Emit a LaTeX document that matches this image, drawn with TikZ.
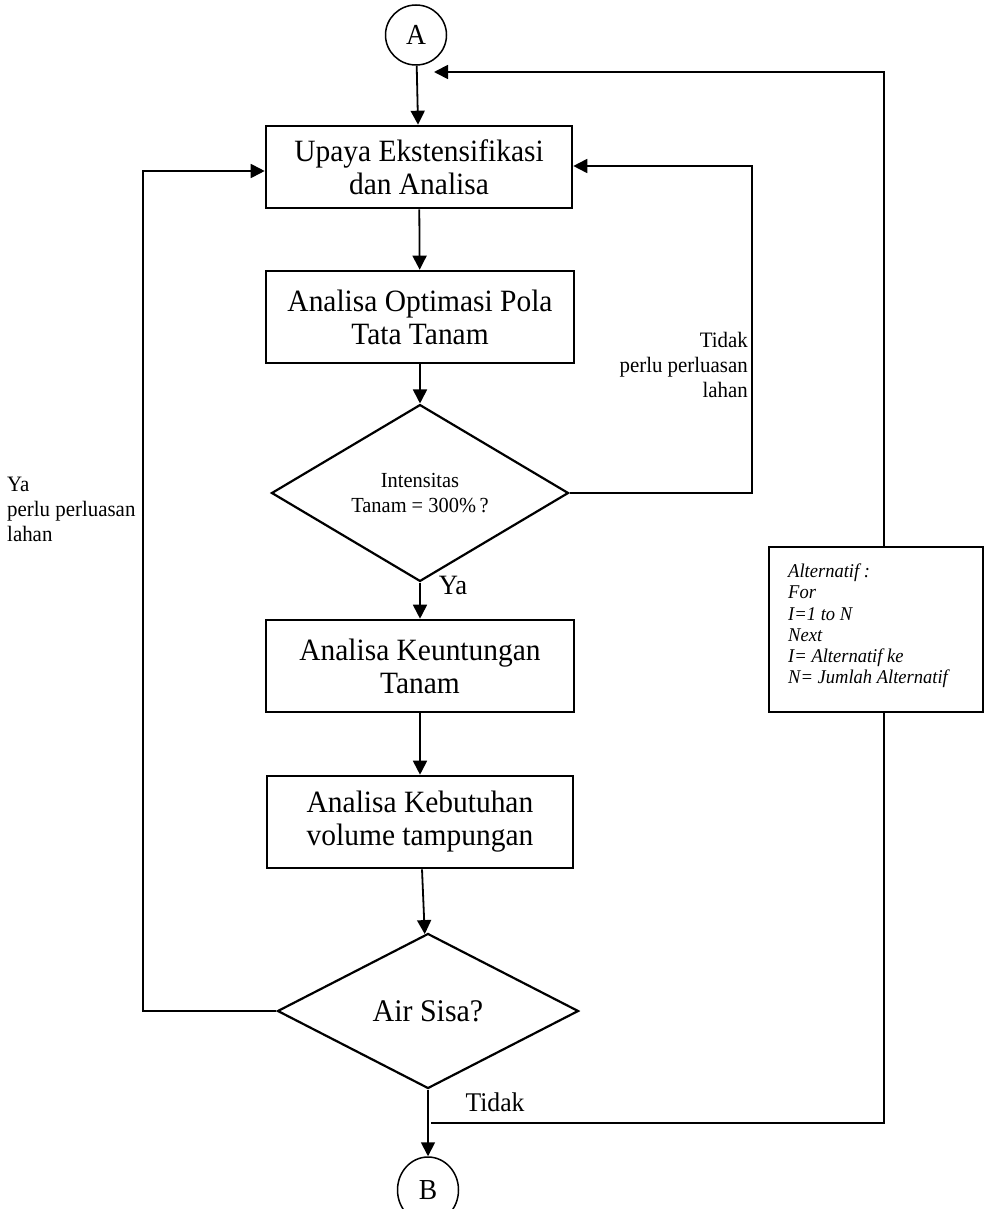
\documentclass[tikz,border=0pt]{standalone}
\usepackage{fontspec}
\setmainfont{Liberation Serif}[FakeStretch=0.95]
\usetikzlibrary{arrows.meta,shapes.geometric}
\begin{document}
\begin{tikzpicture}[x=1pt,y=-1pt,
  procbox/.style={draw,rectangle,line width=2.6pt,inner sep=0pt,align=center,font=\fontsize{31}{33}\selectfont},
  decbox/.style={draw,diamond,line width=2.2pt,inner sep=0pt,align=center},
  connbox/.style={draw,ellipse,line width=1.5pt,inner sep=0pt,font=\fontsize{29}{30}\selectfont},
  arr/.style={line width=1.8pt,-{Triangle[length=14pt,width=14pt]}},
  ln/.style={line width=1.8pt},
  lbl/.style={inner sep=0pt,font=\fontsize{22}{25}\selectfont}
]
\useasboundingbox (0,0) rectangle (991,1209);

% connectors
\node[connbox,minimum width=61pt,minimum height=60pt] (A) at (416,35) {A};
\node[connbox,minimum width=61pt,minimum height=66pt] (B) at (428,1190) {B};

% process boxes
\node[procbox,minimum width=306pt,minimum height=82pt] (b1) at (419,167) {Upaya Ekstensifikasi\\dan Analisa};
\node[procbox,minimum width=308pt,minimum height=92pt] (b2) at (420,317) {Analisa Optimasi Pola\\Tata Tanam};
\node[procbox,minimum width=308pt,minimum height=92pt] (b3) at (420,666) {Analisa Keuntungan\\Tanam};
\node[procbox,minimum width=306pt,minimum height=92pt] (b4) at (420,822) {Analisa Kebutuhan\\volume tampungan};

% decisions
\node[decbox,minimum width=297pt,minimum height=127pt,font=\fontsize{21.5}{25}\selectfont] (d1) at (420,493) {Intensitas\\Tanam = 300\%\,?};
\node[decbox,minimum width=301pt,minimum height=155pt,font=\fontsize{31.5}{33}\selectfont] (d2) at (428,1011) {Air Sisa?};

% alternative box
\node[draw,rectangle,line width=2.6pt,minimum width=214pt,minimum height=165pt,inner sep=0pt] (alt) at (876,629.5) {};
\node[inner sep=0pt,anchor=west,align=left,font=\fontsize{19.5}{21.2}\selectfont\itshape] (altt) at (788,626) {Alternatif :\\For\\I=1 to N\\Next\\I= Alternatif ke\\N= Jumlah Alternatif};

% coordinates
\coordinate (tj) at (431,1123);
\coordinate (rb) at (884,1123);
\coordinate (rt) at (884,72);
\coordinate (ta) at (434,72);
\coordinate (tr) at (752,166);
\coordinate (tl) at (143,171);

% main flow
\draw[arr] (A) -- (b1);
\draw[arr] (b1) -- (b2);
\draw[arr] (b2) -- (d1);
\draw[arr] (d1) -- (b3);
\draw[arr] (b3) -- (b4);
\draw[arr] (b4) -- (d2);
\draw[arr] (d2) -- (B);

% loops
\draw[arr] (d1.east) -| (tr) -- (tr -| b1.east);
\draw[arr] (d2.west) -| (tl) -- (tl -| b1.west);
\draw[ln] (tj) -- (rb) -- (rb |- alt.south);
\draw[arr] (rt |- alt.north) -- (rt) -- (ta);

% labels
\node[lbl,anchor=east,align=right] (lt) at (748,365) {Tidak\\perlu perluasan\\lahan};
\node[lbl,anchor=west,align=left] (ly) at (7,509) {Ya\\perlu perluasan\\lahan};
\node[inner sep=0pt,font=\fontsize{28}{30}\selectfont] (ya) at (453,585) {Ya};
\node[inner sep=0pt,font=\fontsize{27}{28}\selectfont] (td) at (495,1102) {Tidak};
\end{tikzpicture}
\end{document}
